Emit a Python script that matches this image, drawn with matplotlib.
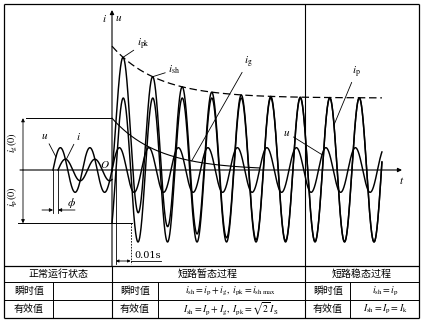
import numpy as np
import matplotlib.pyplot as plt

plt.rcParams['font.family'] = ['Noto Sans CJK SC', 'DejaVu Sans']
plt.rcParams['mathtext.fontset'] = 'stix'

# waveform parameters (time in ms, current in units of Ipm)
T = 20.0          # period
Ipm = 1.0         # amplitude of the periodic component
ip0 = -0.74       # i_p(0)
ig0 = 0.72        # i_g(0)
tau = 31.0        # decay of the aperiodic component
Um = 0.31         # voltage amplitude
Im = 0.15         # load current amplitude
phi_ms = 3.4      # load angle, as a time lag
t_start = -40.0
t_end = 183.0

# table text
header = ['正常运行状态', '短路暂态过程', '短路稳态过程']
row_names = ['瞬时值', '有效值']
formulas_tr = [r'$i_{\rm sh}=i_{\rm p}+i_{\rm g},\ i_{\rm pk}=i_{\rm sh\ max}$',
               r'$I_{\rm sh}=I_{\rm p}+I_{\rm g},\ I_{\rm pk}=\sqrt{2}\,I_{\rm S}$']
formulas_st = [r'$i_{\rm sh}=i_{\rm p}$',
               r'$I_{\rm sh}=I_{\rm p}=I_{\rm k}$']

w = 2 * np.pi / T
theta = np.arcsin(ip0 / Ipm)

t_pre = np.linspace(t_start, 0, 400)
u_pre = Um * np.sin(w * t_pre)
t_ipre = np.linspace(t_start + phi_ms, 0, 400)
i_pre = Im * np.sin(w * (t_ipre - phi_ms))

t_sc = np.linspace(0, t_end, 4000)
ip = Ipm * np.sin(w * t_sc + theta)
ig = ig0 * np.exp(-t_sc / tau)
i_sc = ip + ig
u_sc = Um * np.sin(w * t_sc)

# layout: pixel geometry of the picture
W, H = 425, 322
OX, OY = 112, 170
SX, SY = 1.475, 72.0   # px per ms, px per unit

fig = plt.figure(figsize=(W / 100, H / 100), dpi=100)
ax = fig.add_axes([0, 0, 1, 1])
ax.set_xlim(-OX / SX, (W - OX) / SX)
ax.set_ylim((OY - H) / SY, OY / SY)
ax.axis('off')


def px(x, y):
    return ((x - OX) / SX, (OY - y) / SY)


def seg(x0, y0, x1, y1, **kw):
    a, b = px(x0, y0), px(x1, y1)
    kw.setdefault('lw', 0.8)
    kw.setdefault('color', 'k')
    ax.plot([a[0], b[0]], [a[1], b[1]], solid_capstyle='butt', **kw)


def arrow(x0, y0, x1, y1, style='-|>', lw=0.7):
    ax.annotate('', xy=px(x1, y1), xytext=px(x0, y0),
                arrowprops=dict(arrowstyle=style, lw=lw, color='k',
                                mutation_scale=6, shrinkA=0, shrinkB=0))


# frame and table grid
for y in (4, 266, 282, 300, 318):
    seg(4, y, 419, y, lw=0.9 if y in (4, 318, 266) else 0.7)
seg(4, 4, 4, 318, lw=0.9)
seg(419, 4, 419, 318, lw=0.9)
seg(305, 4, 305, 318)
seg(112, 266, 112, 318)
for x in (53, 158, 350):
    seg(x, 282, x, 318, lw=0.7)

# axes
arrow(112, 266, 112, 10, lw=0.8)
arrow(20, OY, 402, OY, lw=0.8)

lw_c = 1.05
ax.plot(t_pre, u_pre, color='k', lw=lw_c)
ax.plot(t_ipre, i_pre, color='k', lw=lw_c)
ax.plot(t_sc, u_sc, color='k', lw=lw_c)
ax.plot(t_sc, ip, color='k', lw=lw_c)
ax.plot(t_sc, i_sc, color='k', lw=lw_c)
mask = t_sc <= 100
ax.plot(t_sc[mask], ig[mask], color='k', lw=0.8)
ax.plot(t_sc, Ipm + ig, color='k', lw=0.9, ls=(0, (6, 3)))

# i_g(0), i_p(0) marks
xg = px(26, 0)[0]
ax.plot([xg, 0], [ig0, ig0], color='k', lw=0.7)
ax.plot([px(18, 0)[0], px(132, 0)[0]], [ip0, ip0], color='k', lw=0.7)
for v in (ig0, ip0):
    ax.annotate('', xy=(px(23, 0)[0], v), xytext=(px(23, 0)[0], 0),
                arrowprops=dict(arrowstyle='-|>', lw=0.6, color='k',
                                mutation_scale=5, shrinkA=0, shrinkB=0))
ax.text(*px(13, 143), r'$i_{\rm g}(0)$', rotation=90, ha='center', va='center', fontsize=7.5)
ax.text(*px(13, 197), r'$i_{\rm p}(0)$', rotation=90, ha='center', va='center', fontsize=7.5)

# phi marks
for tt in (t_start, t_start + phi_ms):
    ax.plot([tt, tt], [0, px(0, 213)[1]], color='k', lw=0.6)
yphi = px(0, 210)[1]
ax.annotate('', xy=(t_start, yphi), xytext=(px(42, 0)[0], yphi),
            arrowprops=dict(arrowstyle='-|>', lw=0.6, color='k', mutation_scale=5, shrinkA=0, shrinkB=0))
ax.annotate('', xy=(t_start + phi_ms, yphi), xytext=(px(75, 0)[0], yphi),
            arrowprops=dict(arrowstyle='-|>', lw=0.6, color='k', mutation_scale=5, shrinkA=0, shrinkB=0))
ax.text(*px(71, 203), r'$\phi$', ha='center', va='center', fontsize=8.5)

# 0.01 s mark
t1 = -theta / w
t2 = t1 + 10.0
ybar = px(0, 261)[1]
ax.plot([t1, t1], [0, px(0, 264)[1]], color='k', lw=0.6)
ax.plot([t2, t2], [ip0, px(0, 264)[1]], color='k', lw=0.6, ls=(0, (2, 1.5)))
ax.annotate('', xy=(t2, ybar), xytext=(t1, ybar),
            arrowprops=dict(arrowstyle='<|-|>', lw=0.6, color='k', mutation_scale=4, shrinkA=0, shrinkB=0))
ax.plot([t2, px(161, 0)[0]], [ybar, ybar], color='k', lw=0.6)
ax.text(*px(148, 255), '0.01s', ha='center', va='center', fontsize=7, family='DejaVu Serif')

# labels
lab = dict(ha='center', va='center', fontsize=8)
ax.text(*px(104, 18), r'$i$', **lab)
ax.text(*px(119, 18), r'$u$', **lab)
ax.text(*px(105, 164), r'$O$', **lab)
ax.text(*px(402, 180), r'$t$', **lab)

lead = dict(arrowstyle='-', lw=0.6, color='k', shrinkA=0, shrinkB=0)
k1 = np.argmax(i_sc[t_sc < 15])
sel = (t_sc > 15) & (t_sc < 35)
k2 = np.where(sel)[0][np.argmax(i_sc[sel])]
ax.annotate(r'$i_{\rm pk}$', xy=(t_sc[k1], i_sc[k1]), xytext=px(143, 44), fontsize=8,
            ha='center', va='center', arrowprops=lead)
ax.annotate(r'$i_{\rm sh}$', xy=(t_sc[k2], i_sc[k2]), xytext=px(174, 70), fontsize=8,
            ha='center', va='center', arrowprops=lead)
tg = 54.0
ax.annotate(r'$i_{\rm g}$', xy=(tg, ig0 * np.exp(-tg / tau)), xytext=px(248, 62), fontsize=8,
            ha='center', va='center', arrowprops=lead)
tp = 150.5
ax.annotate(r'$i_{\rm p}$', xy=(tp, Ipm * np.sin(w * tp + theta)), xytext=px(356, 72), fontsize=8,
            ha='center', va='center', arrowprops=lead)
tu = 142.4
ax.annotate(r'$u$', xy=(tu, Um * np.sin(w * tu)), xytext=px(287, 133), fontsize=8,
            ha='center', va='center', arrowprops=lead)
tu0 = -38.0
ax.annotate(r'$u$', xy=(tu0, Um * np.sin(w * tu0)), xytext=px(45, 136), fontsize=8,
            ha='center', va='center', arrowprops=lead)
ti0 = -31.0
ax.annotate(r'$i$', xy=(ti0, Im * np.sin(w * (ti0 - phi_ms))), xytext=px(78, 136), fontsize=8,
            ha='center', va='center', arrowprops=lead)

# table text
cn = dict(ha='center', va='center', fontsize=7.2)
for xc, s in zip((58, 208, 362), header):
    ax.text(*px(xc, 274), s, **cn)
for k, (yc, name) in enumerate(zip((291, 309), row_names)):
    for xc in (29, 135, 328):
        ax.text(*px(xc, yc), name, **cn)
    ax.text(*px(231, yc), formulas_tr[k], ha='center', va='center', fontsize=7)
    ax.text(*px(385, yc), formulas_st[k], ha='center', va='center', fontsize=7)

fig.savefig('out.png', dpi=100, facecolor='white')
